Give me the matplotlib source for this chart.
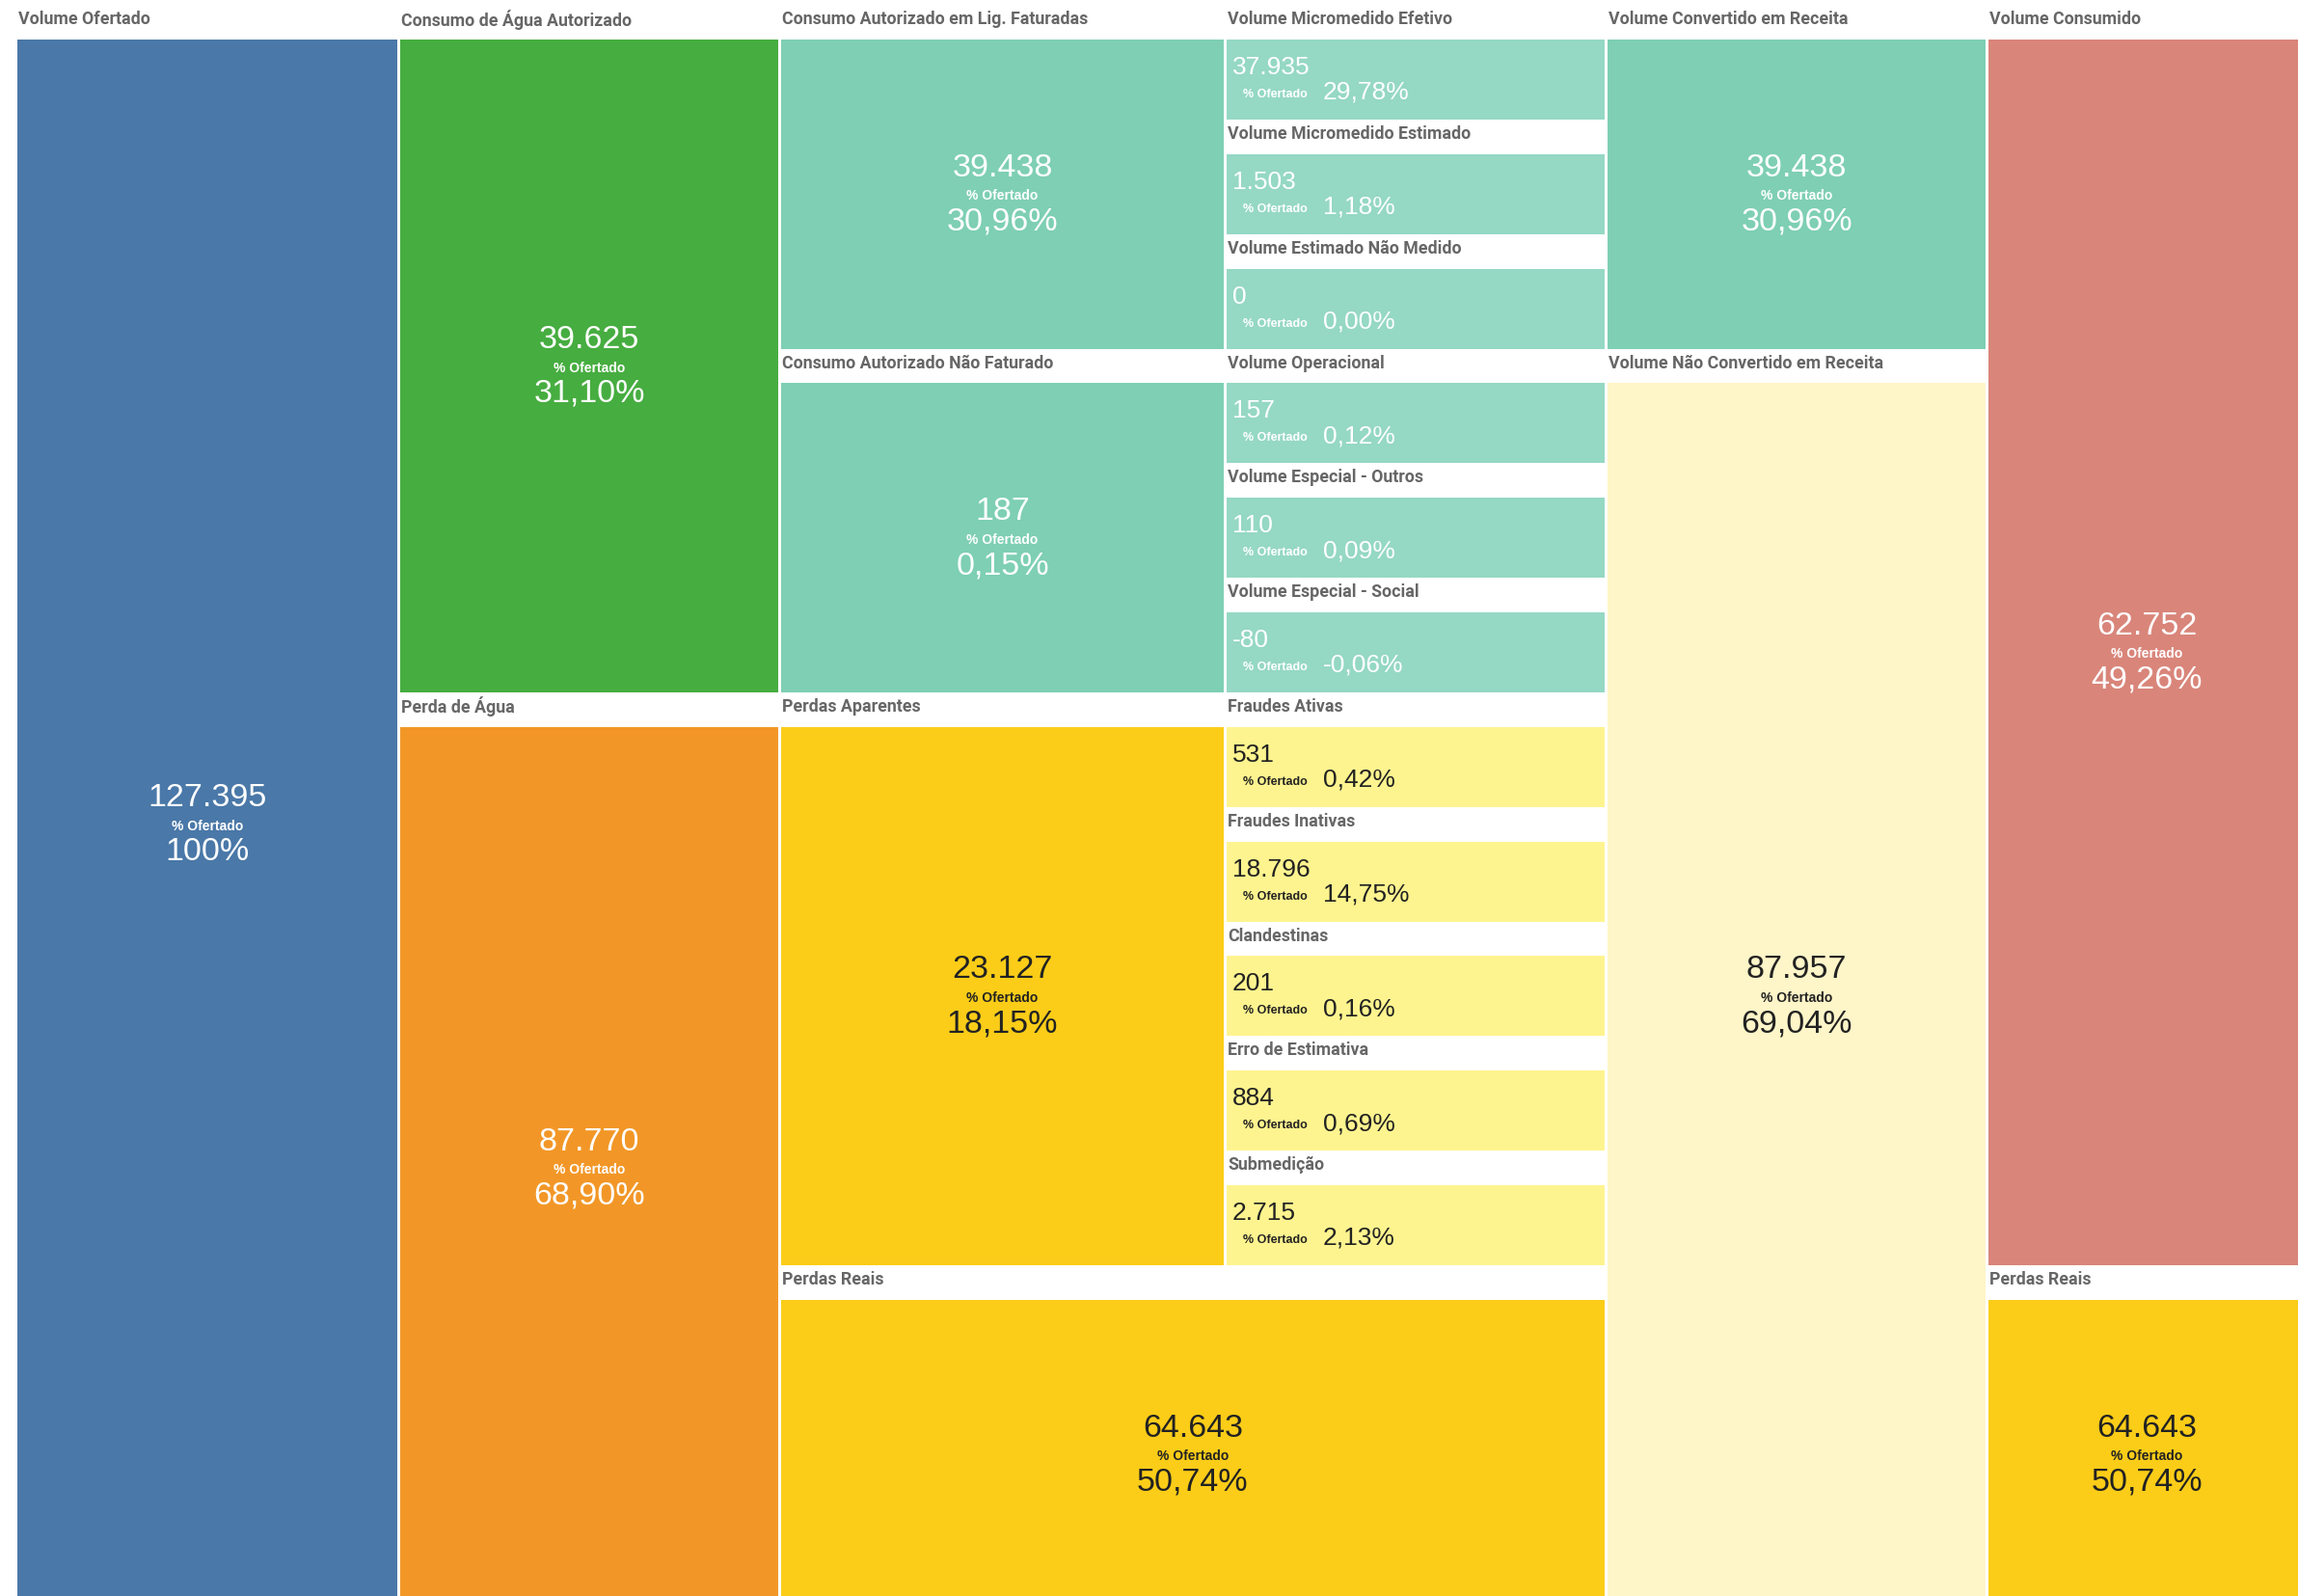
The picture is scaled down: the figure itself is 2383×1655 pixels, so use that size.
import matplotlib.pyplot as plt
from matplotlib.patches import Rectangle

# water balance cells
names = ["Volume Ofertado", "Consumo de Água Autorizado", "Perda de Água",
         "Consumo Autorizado em Lig. Faturadas", "Consumo Autorizado Não Faturado",
         "Perdas Aparentes", "Perdas Reais",
         "Volume Micromedido Efetivo", "Volume Micromedido Estimado",
         "Volume Estimado Não Medido", "Volume Operacional",
         "Volume Especial - Outros", "Volume Especial - Social",
         "Fraudes Ativas", "Fraudes Inativas", "Clandestinas",
         "Erro de Estimativa", "Submedição",
         "Volume Convertido em Receita", "Volume Não Convertido em Receita",
         "Volume Consumido", "Perdas Reais"]
volumes = [127395, 39625, 87770, 39438, 187, 23127, 64643,
           37935, 1503, 0, 157, 110, -80,
           531, 18796, 201, 884, 2715,
           39438, 87957, 62752, 64643]
pct_ofertado = [100, 31.10, 68.90, 30.96, 0.15, 18.15, 50.74,
                29.78, 1.18, 0.00, 0.12, 0.09, -0.06,
                0.42, 14.75, 0.16, 0.69, 2.13,
                30.96, 69.04, 49.26, 50.74]

# layout: first column, last column, first row, row span
col_first = [0, 1, 1, 2, 2, 2, 2] + [3] * 11 + [4, 4, 5, 5]
col_last = [0, 1, 1, 2, 2, 2, 3] + [3] * 11 + [4, 4, 5, 5]
row_start = [0, 0, 6, 0, 3, 6, 11, 0, 1, 2, 3, 4, 5, 6, 7, 8, 9, 10, 0, 3, 0, 11]
row_span = [14, 6, 8, 3, 3, 5, 3] + [1] * 11 + [3, 11, 11, 3]

blue, green, orange = "#4A78A8", "#46AD40", "#F29727"
teal, lteal = "#7ECFB3", "#95D8C4"
yellow, lyellow, pyellow = "#FBCD18", "#FEF48F", "#FEF5C8"
red = "#D9857A"
colors = [blue, green, orange, teal, teal, yellow, yellow] + [lteal] * 6 + \
         [lyellow] * 5 + [teal, pyellow, red, yellow]
dark_text = [False] * 5 + [True, True] + [False] * 6 + [True] * 5 + [False, True, False, True]

col_left = [18, 415, 810, 1272, 1667, 2062]
col_right = [412, 807, 1269, 1664, 2059, 2390]
row0, pitch, head_h = 6.2, 118.8, 35.8

plt.rcParams['font.family'] = ['Liberation Sans', 'DejaVu Sans']
head_font = ['Roboto', 'DejaVu Sans']


def fmt_int(v):
    return f"{v:,}".replace(",", ".")


def fmt_pct(p):
    if p == 100:
        return "100%"
    return f"{p:.2f}%".replace(".", ",")


fig = plt.figure(figsize=(23.83, 16.56), dpi=100)
ax = fig.add_axes([0, 0, 1, 1])
ax.set_xlim(0, 2383)
ax.set_ylim(1656, 0)
ax.axis("off")

for i, name in enumerate(names):
    x0 = col_left[col_first[i]]
    x1 = col_right[col_last[i]]
    top = row0 + pitch * row_start[i]
    bottom = row0 + pitch * (row_start[i] + row_span[i])
    fill_top = top + head_h
    ax.add_patch(Rectangle((x0, fill_top), x1 - x0, bottom - fill_top,
                           facecolor=colors[i], edgecolor="none"))
    ax.text(x0 + 1, top + 14, name, family=head_font, fontweight="bold",
            fontsize=12.8, color="#666666", ha="left", va="center")
    tc = "#222222" if dark_text[i] else "white"
    if row_span[i] == 1 and col_first[i] == 3:
        # small cells: left-aligned labels
        ax.text(x0 + 6, fill_top + 28, fmt_int(volumes[i]), fontsize=19,
                color=tc, ha="left", va="center")
        ax.text(x0 + 17, fill_top + 56, "% Ofertado", fontsize=9,
                fontweight="bold", color=tc, ha="left", va="center")
        ax.text(x0 + 100, fill_top + 54, fmt_pct(pct_ofertado[i]), fontsize=19,
                color=tc, ha="left", va="center")
    else:
        cx = (x0 + x1) / 2
        cy = (fill_top + bottom) / 2
        ax.text(cx, cy - 28, fmt_int(volumes[i]), fontsize=24.5, color=tc,
                ha="center", va="center")
        ax.text(cx, cy + 1, "% Ofertado", fontsize=10, fontweight="bold",
                color=tc, ha="center", va="center")
        ax.text(cx, cy + 28, fmt_pct(pct_ofertado[i]), fontsize=24.5, color=tc,
                ha="center", va="center")

fig.savefig("out.png", dpi=100, facecolor="white")
